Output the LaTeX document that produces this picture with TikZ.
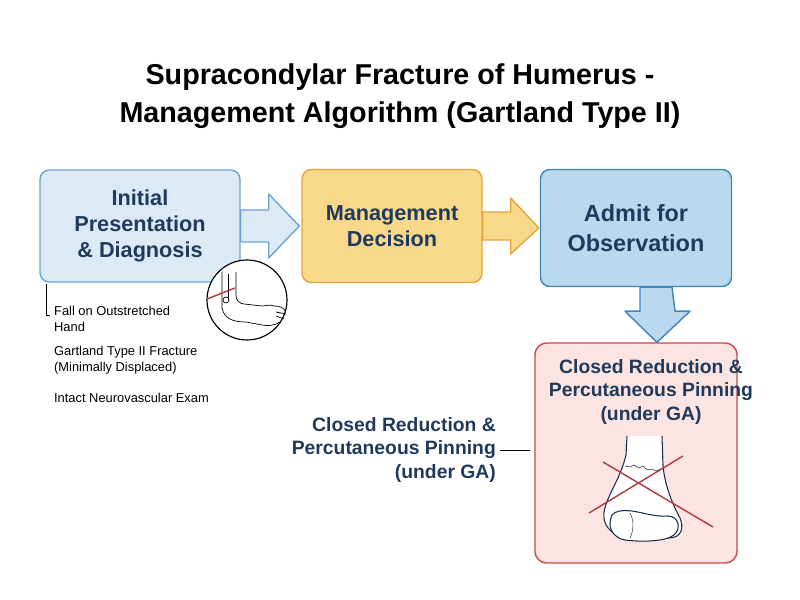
\documentclass[tikz,border=0pt]{standalone}
\usepackage{fontspec}
\setmainfont{Liberation Sans}
\usetikzlibrary{positioning,calc}
\definecolor{ink}{HTML}{1F3A5C}
\definecolor{bluefill}{HTML}{DCEAF6}
\definecolor{blueline}{HTML}{6FA3D2}
\definecolor{deepfill}{HTML}{BBD9EE}
\definecolor{deepline}{HTML}{3D85BB}
\definecolor{yelfill}{HTML}{F8D98C}
\definecolor{yelline}{HTML}{E3A43C}
\definecolor{pinkfill}{HTML}{FBE4E2}
\definecolor{redline}{HTML}{C8484A}
\definecolor{crossred}{HTML}{B03A44}
\tikzset{
  box/.style={rounded corners=8pt, line width=1.2pt, align=center, text=ink,
    font=\bfseries\fontsize{18.5}{22}\selectfont},
  note/.style={anchor=west, align=left, font=\fontsize{11}{13.5}\selectfont},
  bigarrow/.style={line width=1.2pt, line join=round},
}
\begin{document}
\begin{tikzpicture}[x=0.03cm,y=-0.03cm]
  \useasboundingbox (0,0) rectangle (800,600);

  % title
  \node (title) at (400,96) [align=center, font=\bfseries\fontsize{24.5}{32}\selectfont]
    {Supracondylar Fracture of Humerus -\\Management Algorithm (Gartland Type II)};

  % boxes
  \node (init) [box, fill=bluefill, draw=blueline, minimum width=200*0.03cm, minimum height=112*0.03cm]
    at (140,226) {Initial\\Presentation\\\& Diagnosis};
  \node (decide) [box, fill=yelfill, draw=yelline, minimum width=180*0.03cm, minimum height=113*0.03cm]
    at (392,226) {Management\\Decision};
  \node (admit) [box, fill=deepfill, draw=deepline, minimum width=191*0.03cm, minimum height=117*0.03cm,
    font=\bfseries\fontsize{20}{25}\selectfont] at (636,228) {Admit for\\Observation};
  \node (crpp) [box, fill=pinkfill, draw=redline, minimum width=202*0.03cm, minimum height=220*0.03cm,
    rounded corners=10pt] at (636,453) {};
  \node (crpptxt) [align=center, text=ink, font=\bfseries\fontsize{16.5}{20}\selectfont]
    at (651,392) {Closed Reduction \&\\Percutaneous Pinning\\(under GA)};

  % block arrows
  \draw[bigarrow, draw=blueline, fill=bluefill]
    ($(init.east)+(0,-16)$) -- ++(28,0) -- ++(0,-16) -- ($(decide.west)+(-2,0)$)
    -- ($(init.east)+(28,32)$) -- ++(0,-16) -- ($(init.east)+(0,16)$) -- cycle;
  \draw[bigarrow, draw=yelline, fill=yelfill]
    ($(decide.east)+(0,-14)$) -- ++(28,0) -- ++(0,-14) -- ($(admit.west)+(-1,0)$)
    -- ($(decide.east)+(28,28)$) -- ++(0,-14) -- ($(decide.east)+(0,14)$) -- cycle;
  \draw[bigarrow, draw=deepline, fill=deepfill]
    ($(admit.south)+(4,0)$) -- ++(0,24) -- ++(-15,0) -- ($(crpp.north)+(21,0)$)
    -- ($(admit.south)+(54,24)$) -- ++(-15,0) -- ($(admit.south)+(36,0)$) -- cycle;

  % arm icon
  \node (icon) [circle, draw, line width=1pt, fill=white, minimum size=80*0.03cm] at (247,300) {};
  \begin{scope}[line width=0.6pt]
    \draw (222,272) -- (222,308) .. controls (224,318) and (232,322) .. (246,322)
      -- (262,325) .. controls (268,326) and (274,326) .. (280,322);
    \draw (228,274) -- (228,300);
    \draw (236,272) -- (236,296) .. controls (236,300) and (240,304) .. (244,304)
      -- (262,306) .. controls (266,306) and (270,304) .. (274,306);
    \draw (274,306) .. controls (280,306) and (284,308) .. (285,311);
    \draw (276,312) -- (286,314);
    \draw (276,316) -- (284,319);
    \draw (226,300) circle (3);
  \end{scope}
  \draw[crossred, line width=1.2pt] (207,299) -- (235,288);

  % findings
  \draw[line width=0.6pt] (46,284) -- (46,315) -- (50,315);
  \node (fall) [note] at (50,319) {Fall on Outstretched\\Hand};
  \node (gart) [note] at (50,360) {Gartland Type II Fracture\\(Minimally Displaced)};
  \node (neuro) [note] at (50,398) {Intact Neurovascular Exam};

  % side label
  \node (side) [anchor=east, align=right, text=ink, font=\bfseries\fontsize{16.5}{20}\selectfont]
    at (500,450) {Closed Reduction \&\\Percutaneous Pinning\\(under GA)};
  \coordinate (sidetip) at (530,450);
  \draw[line width=0.8pt] (side.east) -- (sidetip);

  % bone
  \begin{scope}[line width=0.9pt, draw=ink!80!black]
    \draw[fill=white] (627,436) -- (626,455) .. controls (620,480) and (607,495) .. (604,512)
      .. controls (602,525) and (612,535) .. (622,536) -- (668,538)
      .. controls (682,538) and (684,528) .. (680,518)
      .. controls (670,500) and (664,480) .. (663,465) -- (662,436);
    \draw[fill=white] (612,515) .. controls (606,528) and (614,538) .. (625,540)
      .. controls (640,542) and (665,542) .. (674,535)
      .. controls (682,528) and (678,516) .. (668,516)
      .. controls (655,517) and (645,513) .. (632,511)
      .. controls (622,510) and (615,511) .. (612,515) -- cycle;
    \draw[line width=0.4pt] (630,513) .. controls (634,520) and (634,530) .. (630,538);
    \draw[line width=0.5pt] (625,466) -- (630,467) -- (634,465) -- (639,468) -- (643,466)
      -- (647,470) -- (652,469) -- (656,471) -- (661,469);
  \end{scope}
  \draw[crossred, line width=1.2pt] (603,462) -- (713,527);
  \draw[crossred, line width=1.2pt] (589,513) -- (683,456);
\end{tikzpicture}
\end{document}
